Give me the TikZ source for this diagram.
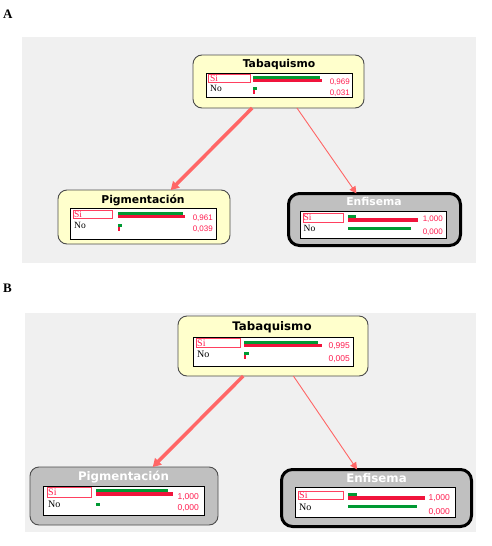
\documentclass[tikz,border=0pt]{standalone}
\usepackage{fontspec}
\setmainfont{Liberation Serif}
\newfontfamily\titlefont{DejaVu Sans}
\newfontfamily\valfont{Liberation Sans}
\usetikzlibrary{arrows.meta}
\definecolor{bgc}{HTML}{F0F0F0}
\definecolor{nodeyellow}{HTML}{FFFFCC}
\definecolor{nodegray}{HTML}{C0C0C0}
\definecolor{barred}{HTML}{F0143C}
\definecolor{bargreen}{HTML}{009933}
\definecolor{valred}{HTML}{FF1E50}
\definecolor{sired}{HTML}{FF4060}
\definecolor{arrowc}{HTML}{FF6666}
\tikzset{
  yellownode/.style={draw=black!70, fill=nodeyellow, line width=0.9pt, rounded corners=9pt, anchor=north west, inner sep=0pt, outer sep=0pt},
  graynode/.style={draw=black!70, fill=nodegray, line width=0.9pt, rounded corners=9pt, anchor=north west, inner sep=0pt, outer sep=0pt},
  evnode/.style={draw=black, fill=nodegray, line width=3pt, rounded corners=11pt, anchor=north west, inner sep=0pt, outer sep=0pt},
  statebox/.style={draw=black, fill=white, line width=0.7pt, anchor=north west, inner sep=0pt, outer sep=0pt},
  sibox/.style={draw=sired, fill=white, line width=0.7pt, anchor=north west, inner sep=0pt, outer sep=0pt},
  titleA/.style={font=\titlefont\bfseries\fontsize{10.8}{12}\selectfont, anchor=base, inner sep=0pt},
  titleB/.style={font=\titlefont\bfseries\fontsize{11.8}{13}\selectfont, anchor=base, inner sep=0pt},
  stA/.style={font=\fontsize{9.5}{10}\selectfont, anchor=base west, inner sep=0pt},
  stB/.style={font=\fontsize{10}{11}\selectfont, anchor=base west, inner sep=0pt},
  valA/.style={font=\valfont\fontsize{8}{9}\selectfont, text=valred, anchor=base east, inner sep=0pt},
  valB/.style={font=\valfont\fontsize{8.5}{9}\selectfont, text=valred, anchor=base east, inner sep=0pt},
  panellabel/.style={font=\bfseries\fontsize{13}{14}\selectfont, anchor=base west, inner sep=0pt},
  strong/.style={draw=arrowc, line width=3.5pt, -{Triangle[length=8pt,width=9pt]}},
  weak/.style={draw=arrowc, line width=0.9pt, -{Triangle[length=7pt,width=7pt]}}
}
\begin{document}
\begin{tikzpicture}[x=1pt,y=-1pt]
\useasboundingbox (0,0) rectangle (491,546);
\fill[white] (0,0) rectangle (491,546);

% ---------------- Panel A ----------------
\node[panellabel] (labA) at (3,18.5) {A};
\fill[bgc] (22,37) rectangle (476,263);

% Tabaquismo A
\node[yellownode, minimum width=171pt, minimum height=53pt] (tabA) at (193,55) {};
\node[titleA] (tabAt) at (279,67.3) {Tabaquismo};
\node[statebox, minimum width=146pt, minimum height=24pt] (tabAw) at (206,73) {};
\node[sibox, minimum width=42pt, minimum height=8pt] (tabAs) at (208,74) {};
\node[stA, text=valred] (tabAsi) at (210,81) {Si};
\node[stA] (tabAno) at (210,91) {No};
\fill[bargreen] (253,76) rectangle (320,79);
\fill[barred] (253,79) rectangle (322,82);
\fill[bargreen] (253,87) rectangle (257,90);
\fill[barred] (253,90) rectangle (255,94);
\node[valA] (tabAv1) at (350,84) {0,969};
\node[valA] (tabAv2) at (350,95.5) {0,031};

% Pigmentacion A
\node[yellownode, minimum width=172pt, minimum height=54pt] (pigA) at (58,190) {};
\node[titleA] (pigAt) at (143,203.5) {Pigmentación};
\node[statebox, minimum width=146pt, minimum height=31pt] (pigAw) at (70,208) {};
\node[sibox, minimum width=39pt, minimum height=8pt] (pigAs) at (73,210) {};
\node[stA, text=valred] (pigAsi) at (74,217) {Si};
\node[stA] (pigAno) at (74,228) {No};
\fill[bargreen] (118,212) rectangle (183,215);
\fill[barred] (118,215) rectangle (185,218);
\fill[bargreen] (118,224) rectangle (122,227);
\fill[barred] (118,227) rectangle (120,231);
\node[valA] (pigAv1) at (213,220.5) {0,961};
\node[valA] (pigAv2) at (213,231.5) {0,039};

% Enfisema A
\node[evnode, minimum width=172pt, minimum height=52pt] (enfA) at (288.5,193.5) {};
\node[titleA, text=white] (enfAt) at (374,205) {Enfisema};
\node[statebox, minimum width=146pt, minimum height=27pt] (enfAw) at (300,211) {};
\node[sibox, minimum width=40pt, minimum height=9pt] (enfAs) at (303,213) {};
\node[stA, text=valred] (enfAsi) at (303.5,220) {Si};
\node[stA] (enfAno) at (303.5,231.5) {No};
\fill[bargreen] (348,215) rectangle (356,218);
\fill[barred] (348,218) rectangle (418,222);
\fill[bargreen] (348,227) rectangle (411,230);
\node[valA] (enfAv1) at (443,221.5) {1,000};
\node[valA] (enfAv2) at (443,234) {0,000};

\draw[strong] (tabA) -- (pigA);
\draw[weak] (tabA) -- (enfA);

% ---------------- Panel B ----------------
\node[panellabel] (labB) at (3,292.5) {B};
\fill[bgc] (25,313) rectangle (476,532);

% Tabaquismo B
\node[yellownode, minimum width=190pt, minimum height=60pt] (tabB) at (178,316) {};
\node[titleB] (tabBt) at (272,330) {Tabaquismo};
\node[statebox, minimum width=160pt, minimum height=29pt] (tabBw) at (193,337) {};
\node[sibox, minimum width=44pt, minimum height=9pt] (tabBs) at (196,338) {};
\node[stB, text=valred] (tabBsi) at (197,346) {Si};
\node[stB] (tabBno) at (197,357.5) {No};
\fill[bargreen] (244,341) rectangle (318,344);
\fill[barred] (244,344) rectangle (322,347);
\fill[bargreen] (244,352) rectangle (249,355);
\fill[barred] (244,355) rectangle (245.5,359);
\node[valB] (tabBv1) at (350,348) {0,995};
\node[valB] (tabBv2) at (350,361) {0,005};

% Pigmentacion B
\node[graynode, minimum width=188pt, minimum height=58pt] (pigB) at (30,467) {};
\node[titleB, text=white] (pigBt) at (123.5,480) {Pigmentación};
\node[statebox, minimum width=161pt, minimum height=29pt] (pigBw) at (43,486) {};
\node[sibox, minimum width=44pt, minimum height=10pt] (pigBs) at (47,487) {};
\node[stB, text=valred] (pigBsi) at (48,495) {Si};
\node[stB] (pigBno) at (48,507.5) {No};
\fill[bargreen] (96,489) rectangle (168,492);
\fill[barred] (96,492) rectangle (173,496);
\fill[bargreen] (96,503) rectangle (100,506);
\node[valB] (pigBv1) at (199,499) {1,000};
\node[valB] (pigBv2) at (199,510) {0,000};

% Enfisema B
\node[evnode, minimum width=190pt, minimum height=57pt] (enfB) at (281.5,469.5) {};
\node[titleB, text=white] (enfBt) at (376.5,482.3) {Enfisema};
\node[statebox, minimum width=160pt, minimum height=30pt] (enfBw) at (295,487) {};
\node[sibox, minimum width=45pt, minimum height=8pt] (enfBs) at (298,491) {};
\node[stB, text=valred] (enfBsi) at (299,498) {Si};
\node[stB] (enfBno) at (299,510) {No};
\fill[bargreen] (348,493) rectangle (357,496);
\fill[barred] (348,496) rectangle (425,500);
\fill[bargreen] (348,505) rectangle (417,508);
\node[valB] (enfBv1) at (450,500) {1,000};
\node[valB] (enfBv2) at (450,514) {0,000};

\draw[strong] (tabB) -- (pigB);
\draw[weak] (tabB) -- (enfB);
\end{tikzpicture}
\end{document}
